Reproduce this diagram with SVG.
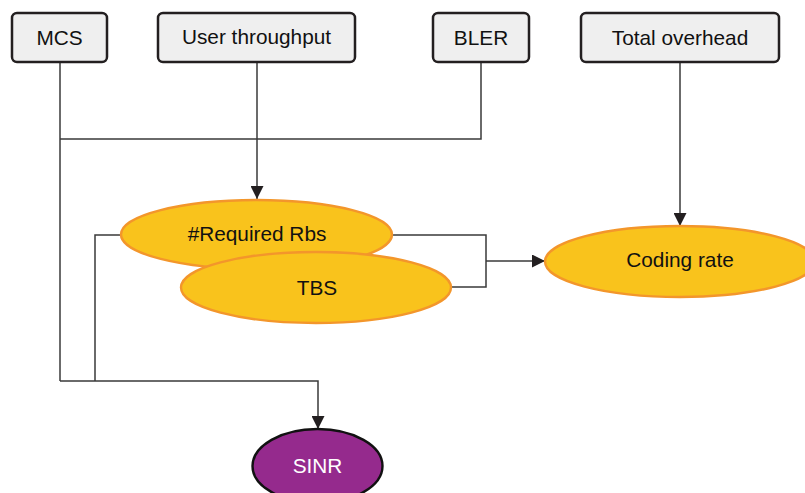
<svg xmlns="http://www.w3.org/2000/svg" width="805" height="493" viewBox="0 0 805 493">
  <defs>
    <marker id="arrow" markerWidth="13" markerHeight="13" refX="13" refY="6.5" orient="auto" markerUnits="userSpaceOnUse">
      <path d="M0,0 L13,6.5 L0,13 Z" fill="#231f20"/>
    </marker>
  </defs>
  <style>
    .box { fill: #efefef; stroke: #231f20; stroke-width: 2.5; }
    .oval { fill: #f9c31c; stroke: #f3962b; stroke-width: 2.4; }
    .sinr { fill: #952a8d; stroke: #111; stroke-width: 2.4; }
    .wire { fill: none; stroke: #3a3a3a; stroke-width: 1.5; }
    .label { font-family: "Liberation Sans", Arial, sans-serif; font-size: 20.8px; fill: #111; text-anchor: middle; }
    .light { fill: #ffffff; }
  </style>
  <rect width="805" height="493" fill="#ffffff"/>

  <!-- connectors -->
  <g id="connectors">
    <path class="wire" d="M60,62 V381"/>
    <path class="wire" d="M60,139 H481 V62"/>
    <path class="wire" d="M257,62 V199" marker-end="url(#arrow)"/>
    <path class="wire" d="M680,62 V226" marker-end="url(#arrow)"/>
    <path class="wire" d="M392,235 H486 V287 H451"/>
    <path class="wire" d="M486,261 H545" marker-end="url(#arrow)"/>
    <path class="wire" d="M121,235 H95 V381"/>
    <path class="wire" d="M60,381 H318 V429" marker-end="url(#arrow)"/>
  </g>

  <g id="mcs">
    <rect class="box" x="12" y="13" width="95" height="49" rx="5"/>
    <text class="label" x="59.5" y="45">MCS</text>
  </g>
  <g id="user-throughput">
    <rect class="box" x="158" y="13" width="197" height="49" rx="5"/>
    <text class="label" x="256.5" y="44">User throughput</text>
  </g>
  <g id="bler">
    <rect class="box" x="433" y="13" width="96" height="49" rx="5"/>
    <text class="label" x="481" y="45">BLER</text>
  </g>
  <g id="total-overhead">
    <rect class="box" x="581" y="13" width="198" height="49" rx="5"/>
    <text class="label" x="680" y="45">Total overhead</text>
  </g>

  <g id="required-rbs">
    <ellipse class="oval" cx="256.5" cy="234.5" rx="135.5" ry="34.5"/>
    <text class="label" x="257" y="241">#Required Rbs</text>
  </g>
  <g id="tbs">
    <ellipse class="oval" cx="316" cy="287.5" rx="135" ry="35.5"/>
    <text class="label" x="317" y="295">TBS</text>
  </g>
  <g id="coding-rate">
    <ellipse class="oval" cx="680" cy="261.5" rx="135" ry="35.5"/>
    <text class="label" x="680" y="267">Coding rate</text>
  </g>
  <g id="sinr">
    <ellipse class="sinr" cx="317.5" cy="466" rx="65" ry="37"/>
    <text class="label light" x="317.5" y="473">SINR</text>
  </g>
</svg>
